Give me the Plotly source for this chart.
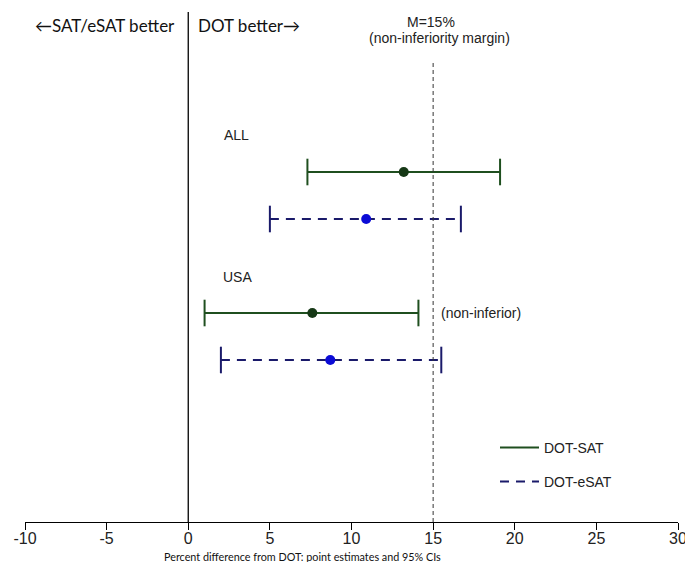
import plotly.graph_objects as go

# ---- data ----
groups = ["ALL", "USA"]
series_names = ["DOT-SAT", "DOT-eSAT"]
sat_point = [13.2, 7.6]
sat_lower = [7.3, 1.0]
sat_upper = [19.1, 14.1]
esat_point = [10.9, 8.7]
esat_lower = [5.0, 2.0]
esat_upper = [16.7, 15.5]
margin_M = 15
x_ticks = [-10, -5, 0, 5, 10, 15, 20, 25, 30]

# ---- layout helpers ----
W, H = 685, 562
ML, MR, MT, MB = 25, 7, 0, 40
PH = H - MT - MB
PW = W - ML - MR

def py(p):  # pixel y -> paper y
    return 1 - (p - MT) / PH

def pxp(p):  # pixel x -> paper x
    return (p - ML) / PW

# row positions (row index units), SAT then eSAT for each group
sat_rows = [0, 3]
esat_rows = [1, 4]
row_px = 47.0
row0_px = 172.0
y_top = -(row0_px - MT) / row_px
y_bot = (H - MB - row0_px) / row_px

green_line = "#1f4f1f"
green_pt = "#163816"
navy = "#1a1a6a"
blue_pt = "#0b0bd6"

fig = go.Figure()

def add_series(name, pts, lo, hi, rows, lcolor, pcolor, dash, legend):
    xs, ys = [], []
    for l, h, r in zip(lo, hi, rows):
        xs += [l, h, None]
        ys += [r, r, None]
    fig.add_trace(go.Scatter(x=xs, y=ys, mode="lines", name=name,
                             line=dict(color=lcolor, width=2, dash=dash),
                             showlegend=True, legend=legend, hoverinfo="skip"))
    cx, cy = [], []
    for l, h, r in zip(lo, hi, rows):
        cx += [l, h]
        cy += [r, r]
    fig.add_trace(go.Scatter(x=cx, y=cy, mode="markers", showlegend=False,
                             marker=dict(symbol="line-ns", size=19,
                                         line=dict(color=lcolor, width=2)),
                             hoverinfo="skip"))
    fig.add_trace(go.Scatter(x=pts, y=rows, mode="markers", showlegend=False,
                             marker=dict(symbol="circle", size=10, color=pcolor),
                             name=name))

add_series(series_names[0], sat_point, sat_lower, sat_upper, sat_rows,
           green_line, green_pt, "solid", "legend")
add_series(series_names[1], esat_point, esat_lower, esat_upper, esat_rows,
           navy, blue_pt, "9px,7px", "legend2")

# reference lines
fig.add_shape(type="line", xref="x", yref="paper", x0=0, x1=0,
              y0=0, y1=py(12), line=dict(color="black", width=1.3))
fig.add_shape(type="line", xref="x", yref="paper", x0=margin_M, x1=margin_M,
              y0=0, y1=py(62), line=dict(color="#333333", width=1, dash="4px,3px"))

arial = "Liberation Sans, Arial, sans-serif"
cal = "Lato, Open Sans, sans-serif"

def ann(text, xp, ypx, anchor="left", size=14, family=arial, color="#222222"):
    fig.add_annotation(text=text, xref="paper", yref="paper", x=pxp(xp), y=py(ypx),
                       xanchor=anchor, yanchor="middle", showarrow=False,
                       font=dict(size=size, family=family, color=color))

ann("←SAT/eSAT better", 33, 26, size=17, family=cal, color="#111111")
ann("DOT better→", 196, 26, size=17, family=cal, color="#111111")
ann("M=15%", 431, 22, anchor="center", size=14)
ann("(non-inferiority margin)", 440, 38, anchor="center", size=14)
ann(groups[0], 222, 135, size=14)
ann(groups[1], 221, 277, size=14)
ann("(non-inferior)", 439, 313, size=14)
ann("Percent difference from DOT: point estimates and 95% CIs", 302, 556,
    anchor="center", size=10.8, family=cal, color="#111111")

fig.update_layout(
    width=W, height=H,
    margin=dict(l=ML, r=MR, t=MT, b=MB),
    paper_bgcolor="white", plot_bgcolor="white",
    xaxis=dict(range=[-10, 30], tickvals=x_ticks, ticktext=[str(v) for v in x_ticks],
               showline=True, linecolor="black", linewidth=1.3,
               ticks="outside", ticklen=7, tickwidth=1.3, tickcolor="black",
               tickfont=dict(size=16, family=arial, color="#222222"),
               ticklabeloverflow="allow", ticklabelstandoff=-5,
               showgrid=False, zeroline=False, automargin=False),
    yaxis=dict(range=[y_bot, y_top], visible=False, showgrid=False, zeroline=False,
               automargin=False),
    legend=dict(x=pxp(495), y=py(448), xanchor="left", yanchor="middle", itemwidth=39,
                bgcolor="rgba(0,0,0,0)", font=dict(size=14, family=arial, color="#222222")),
    legend2=dict(x=pxp(495), y=py(482), xanchor="left", yanchor="middle", itemwidth=39,
                 bgcolor="rgba(0,0,0,0)", font=dict(size=14, family=arial, color="#222222")),
    showlegend=True,
)

fig.write_html("out.html", post_script="document.body.style.margin='0px';",
               config={"displayModeBar": False})
